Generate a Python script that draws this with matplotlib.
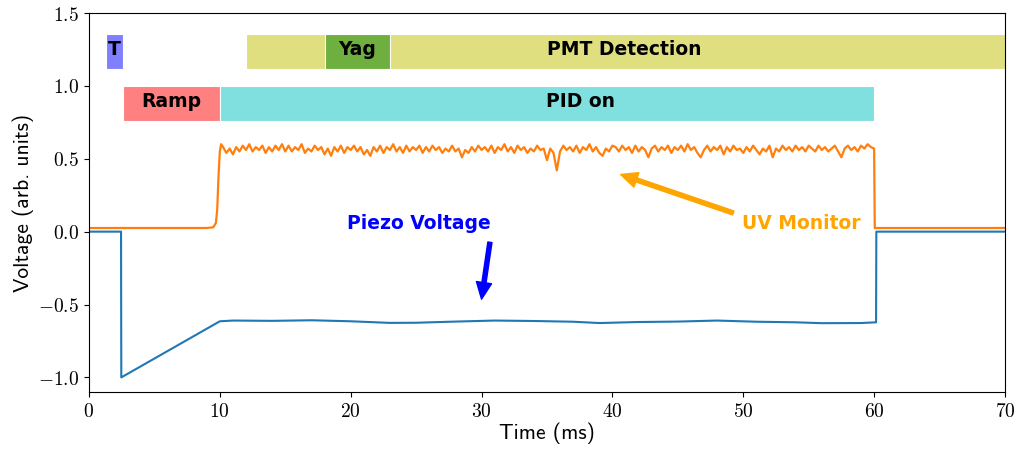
import numpy as np
import matplotlib
matplotlib.use("Agg")
import matplotlib.pyplot as plt
from matplotlib.ticker import FuncFormatter

plt.rcParams['mathtext.fontset'] = 'cm'

# --- data ---
# UV monitor (orange): baseline, rise, noisy plateau, drop
uv_pre_t = [0.0, 9.0, 9.5, 9.7, 9.8, 9.9, 10.0, 10.1]
uv_pre_v = [0.025, 0.025, 0.03, 0.06, 0.15, 0.38, 0.55, 0.60]
uv_plateau = [
    0.58, 0.54, 0.57, 0.53, 0.58, 0.55, 0.59, 0.56, 0.60, 0.55, 0.58, 0.56, 0.59, 0.54, 0.58, 0.55, 0.59, 0.56, 0.60, 0.55,
    0.59, 0.55, 0.58, 0.56, 0.60, 0.54, 0.57, 0.55, 0.59, 0.56, 0.58, 0.53, 0.57, 0.52, 0.58, 0.55, 0.59, 0.54, 0.58, 0.56,
    0.59, 0.55, 0.58, 0.53, 0.56, 0.52, 0.58, 0.55, 0.59, 0.54, 0.58, 0.56, 0.60, 0.55, 0.58, 0.54, 0.59, 0.55, 0.58, 0.56,
    0.59, 0.54, 0.58, 0.55, 0.59, 0.56, 0.58, 0.54, 0.57, 0.55, 0.59, 0.55, 0.57, 0.51, 0.56, 0.54, 0.58, 0.55, 0.59, 0.56,
    0.58, 0.55, 0.59, 0.54, 0.58, 0.56, 0.60, 0.55, 0.58, 0.54, 0.59, 0.56, 0.58, 0.54, 0.57, 0.55, 0.59, 0.56, 0.57, 0.49,
    0.57, 0.54, 0.42, 0.55, 0.59, 0.56, 0.58, 0.55, 0.59, 0.54, 0.58, 0.56, 0.60, 0.55, 0.58, 0.54, 0.52, 0.57, 0.55, 0.59,
    0.58, 0.55, 0.59, 0.56, 0.58, 0.54, 0.59, 0.55, 0.58, 0.56, 0.51, 0.57, 0.59, 0.55, 0.58, 0.56, 0.59, 0.54, 0.58, 0.56,
    0.59, 0.55, 0.60, 0.56, 0.58, 0.54, 0.51, 0.56, 0.59, 0.55, 0.58, 0.56, 0.59, 0.53, 0.58, 0.55, 0.59, 0.56, 0.57, 0.54,
    0.58, 0.55, 0.59, 0.56, 0.53, 0.57, 0.55, 0.59, 0.51, 0.57, 0.55, 0.59, 0.56, 0.58, 0.55, 0.59, 0.56, 0.58, 0.55, 0.59,
    0.57, 0.55, 0.59, 0.56, 0.58, 0.55, 0.57, 0.59, 0.55, 0.51, 0.57, 0.59, 0.56, 0.58, 0.55, 0.59, 0.57, 0.60, 0.58,
]
uv_post_t = [60.0, 60.05, 70.0]
uv_post_v = [0.57, 0.025, 0.025]

# Piezo voltage (blue)
piezo_t = [0.0, 2.45, 2.47, 10.0, 11, 14, 17, 20, 23, 25, 28, 31, 34, 37, 39, 42, 45, 48, 51, 54, 56, 59, 60.15, 60.17, 70.0]
piezo_v = [0.0, 0.0, -1.0, -0.615, -0.61, -0.612, -0.608, -0.615, -0.626, -0.625, -0.617, -0.61, -0.613,
           -0.618, -0.627, -0.62, -0.617, -0.61, -0.618, -0.622, -0.628, -0.627, -0.622, 0.0, 0.0]

# timing blocks: label, start, end, row centre, colour
block_labels = ['T', 'PMT Detection', 'Yag', 'Ramp', 'PID on']
block_start = [1.3, 12.0, 18.0, 2.6, 10.0]
block_end = [2.6, 70.0, 23.0, 10.0, 60.0]
block_row = [1.235, 1.235, 1.235, 0.88, 0.88]
block_colors = ['#8080ff', '#dfdf80', '#6faf40', '#ff8080', '#80dfdf']
label_x = [1.95, 40.9, 20.5, 6.3, 37.6]

uv_t = np.concatenate([uv_pre_t, np.arange(10.25, 60.0, 0.25), uv_post_t])
uv_v = np.concatenate([uv_pre_v, uv_plateau, uv_post_v])

fig = plt.figure(figsize=(10.18, 4.53), dpi=100)
ax = fig.add_axes([0.0874, 0.1347, 0.8998, 0.8366])

for lab, s, e, r, c, lx in zip(block_labels, block_start, block_end, block_row, block_colors, label_x):
    ax.barh(r, e - s, left=s, height=0.245, color=c, edgecolor='white', linewidth=0.8)
    ax.text(lx, r + 0.015, lab, ha='center', va='center', fontsize=13.5, fontweight='bold')

ax.plot(piezo_t, piezo_v, color='tab:blue', lw=1.5)
ax.plot(uv_t, uv_v, color='tab:orange', lw=1.6)

ax.text(25.2, 0.055, 'Piezo Voltage', color='blue', fontsize=13.5, fontweight='bold', ha='center', va='center')
ax.annotate('', xy=(30.0, -0.463), xytext=(30.64, -0.073),
            arrowprops=dict(color='blue', width=3, headwidth=11, headlength=12))
ax.text(54.4, 0.055, 'UV Monitor', color='orange', fontsize=13.5, fontweight='bold', ha='center', va='center')
ax.annotate('', xy=(40.63, 0.392), xytext=(49.24, 0.128),
            arrowprops=dict(color='orange', width=3, headwidth=11, headlength=12))

ax.set_xlim(0, 70)
ax.set_ylim(-1.1, 1.5)
ax.set_xticks(np.arange(0, 71, 10))
ax.set_yticks([-1.0, -0.5, 0.0, 0.5, 1.0, 1.5])
ax.xaxis.set_major_formatter(FuncFormatter(lambda v, p: r'$%d$' % v))
ax.yaxis.set_major_formatter(FuncFormatter(lambda v, p: r'$%.1f$' % v))
ax.tick_params(labelsize=14)
ax.set_xlabel('Time (ms)', family='cmss10', fontsize=15.5, labelpad=1)
ax.set_ylabel('Voltage (arb. units)', family='cmss10', fontsize=15.5, labelpad=3)

fig.savefig('out.png', dpi=100)
